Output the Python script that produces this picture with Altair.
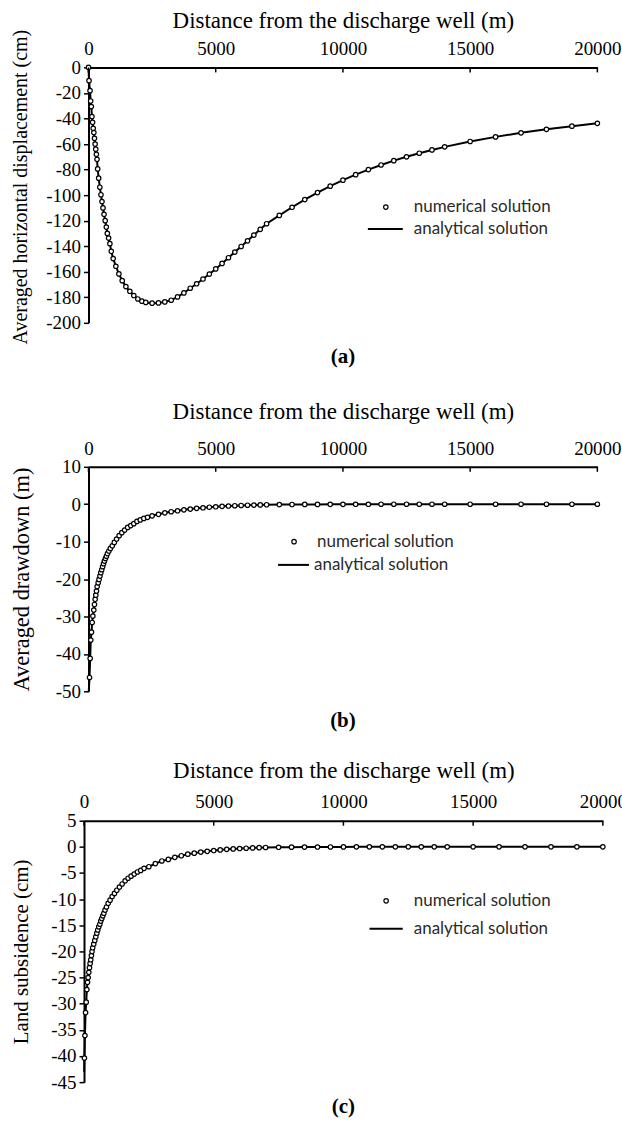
import altair as alt
import pandas as pd

SERIF = "Liberation Serif"
SANS = "Lato"

X_TITLE = "Distance from the discharge well (m)"
X_TICKS = [0, 5000, 10000, 15000, 20000]
NUM_LABEL = "numerical solution"
ANA_LABEL = "analytical solution"
TAGS = ["(a)", "(b)", "(c)"]

# ---------------- panel (a) ----------------
A_TITLE = "Averaged horizontal displacement (cm)"
A_Y_TICKS = [0, -20, -40, -60, -80, -100, -120, -140, -160, -180, -200]
A_X = [0, 20, 60, 85, 110, 135, 160, 185, 210, 235, 260, 285, 310, 335,
       360, 400, 445, 490, 530, 570, 610, 655, 700, 740, 790, 840, 895,
       970, 1075, 1195, 1325, 1470, 1625, 1780, 1940, 2100,
       2250, 2500, 2750, 3000, 3250, 3500, 3750, 4000, 4250, 4500, 4750,
       5000, 5250, 5500, 5750, 6000, 6250, 6500, 6750, 7000,
       7500, 8000, 8500, 9000, 9500, 10000, 10500, 11000, 11500, 12000,
       12500, 13000, 13500, 14000,
       15000, 16000, 17000, 18000, 19000, 20000]
A_Y = [0, -10.4, -18.2, -26.3, -30.7, -38.5, -43, -47.7, -51, -55.5, -60, -64, -68, -72,
       -79.5, -86.7, -93.8, -99.7, -105, -110, -115, -120, -125, -130, -133.6, -138, -144,
       -149.7, -155.7, -161.7, -167, -171.6, -175.3, -178.6, -181.3, -183,
       -184, -184.6, -184.4, -183.6, -182.3, -179.7, -176.6, -172.9, -169.4, -165.7, -161.8,
       -157.8, -153.5, -149.0, -144.6, -140.2, -135.8, -131.3, -126.8, -122.4,
       -115.9, -109.5, -103.5, -98, -93, -88.3, -84, -80, -76.4, -73,
       -70, -67.2, -64.6, -62.2,
       -58, -54.4, -51.2, -48.5, -46, -43.8]

# ---------------- panel (b) ----------------
B_TITLE = "Averaged drawdown (m)"
B_Y_TICKS = [10, 0, -10, -20, -30, -40, -50]
B_X = [40, 65, 90, 117, 145, 172, 208, 235, 261, 287, 313, 340,
       380, 415, 450, 485, 520, 555, 590, 625, 665, 705, 745,
       800, 860, 935, 1015, 1105, 1205, 1310, 1420, 1540, 1660, 1780, 1905, 2035, 2175, 2320,
       2500, 2750, 3000, 3250, 3500, 3750, 4000, 4250, 4500, 4750,
       5000, 5250, 5500, 5750, 6000, 6250, 6500, 6750, 7000,
       7500, 8000, 8500, 9000, 9500, 10000, 10500, 11000, 11500, 12000,
       12500, 13000, 13500, 14000,
       15000, 16000, 17000, 18000, 19000, 20000]
B_Y = [-46.3, -41.2, -36.3, -34.2, -31.6, -29.9, -28.3, -26.8, -25.4, -24.3, -23.2, -22,
       -21, -20.1, -19.2, -18.3, -17.5, -16.7, -15.9, -15.2, -14.5, -13.9, -13.2,
       -12.5, -11.8, -11.1, -10.2, -9.3, -8.4, -7.6, -6.9, -6.2, -5.7, -5.2, -4.6, -4.2, -3.8, -3.5,
       -3.1, -2.7, -2.3, -2.0, -1.75, -1.5, -1.3, -1.1, -0.95, -0.8,
       -0.68, -0.57, -0.48, -0.4, -0.33, -0.27, -0.22, -0.18, -0.14,
       -0.1, -0.07, -0.05, -0.04, -0.03, -0.02, -0.01, -0.01, 0, 0,
       0, 0, 0, 0,
       0, 0, 0, 0, 0, 0]
B_LINE_START_X = [10]
B_LINE_START_Y = [-50]

# ---------------- panel (c) ----------------
C_TITLE = "Land subsidence (cm)"
C_Y_TICKS = [5, 0, -5, -10, -15, -20, -25, -30, -35, -40, -45]
C_X = [15, 35, 60, 85, 110, 135, 160, 185, 210, 235, 260, 285, 310, 335,
       375, 415, 455, 495, 530, 570, 610, 645, 685, 725, 765,
       810, 865, 930, 1005, 1085, 1175, 1265, 1365, 1470, 1585, 1700, 1815, 1935, 2060, 2185, 2315,
       2500, 2750, 3000, 3250, 3500, 3750, 4000, 4250, 4500, 4750,
       5000, 5250, 5500, 5750, 6000, 6250, 6500, 6750, 7000,
       7500, 8000, 8500, 9000, 9500, 10000, 10500, 11000, 11500, 12000,
       12500, 13000, 13500, 14000,
       15000, 16000, 17000, 18000, 19000, 20000]
C_Y = [-40.4, -36.1, -31.7, -29.7, -27.3, -25.9, -25, -24, -23.1, -22.3, -21.6, -20.8, -20, -19.3,
       -18.6, -17.9, -17.2, -16.5, -15.9, -15.3, -14.8, -14.2, -13.7, -13.2, -12.7,
       -12.1, -11.5, -10.8, -10.2, -9.5, -8.9, -8.3, -7.7, -7.1, -6.5, -6.0, -5.6, -5.2, -4.8, -4.5, -4.1,
       -3.8, -3.2, -2.7, -2.4, -2.0, -1.7, -1.4, -1.2, -1.0, -0.85,
       -0.7, -0.58, -0.48, -0.4, -0.32, -0.26, -0.2, -0.15, -0.12,
       -0.08, -0.06, -0.04, -0.03, -0.02, -0.01, 0, 0, 0, 0,
       0, 0, 0, 0,
       0, 0, 0, 0, 0, 0]
C_LINE_START_X = [5]
C_LINE_START_Y = [-43]


def panel(xs, ys, lxs, lys, y_title, y_ticks, y_domain, width, height, tag,
          x_label_pad, x_title_pad, y_title_pad, y_title_size, y_title_y,
          tag_offset, num_leg, ana_leg, shift=0.0):
    pts = pd.DataFrame({"x": xs, "y": ys, "series": NUM_LABEL})
    ln = pd.DataFrame({"x": lxs, "y": lys, "series": ANA_LABEL})
    tk = pd.DataFrame({"x": X_TICKS})

    x_scale_kw = dict(domain=[0, 20000], nice=False, zero=False)
    if shift:
        x_scale_kw["range"] = [-shift, width - shift]
    x_enc = alt.X(
        "x:Q",
        scale=alt.Scale(**x_scale_kw),
        axis=alt.Axis(orient="top", values=X_TICKS, title=X_TITLE,
                      labelExpr="datum.value + ''", ticks=False, tickSize=0,
                      labelPadding=x_label_pad, titlePadding=x_title_pad,
                      titleFontSize=23, labelFlush=False, grid=False),
    )
    y_axis_kw = dict(values=y_ticks, title=y_title, labelExpr="datum.value + ''",
                     tickSize=5, labelPadding=3, titlePadding=y_title_pad,
                     titleFontSize=y_title_size, labelFlush=False, grid=False)
    if y_title_y is not None:
        y_axis_kw["titleY"] = y_title_y
    if shift:
        y_axis_kw["offset"] = shift
    y_enc = alt.Y(
        "y:Q",
        scale=alt.Scale(domain=y_domain, nice=False, zero=False),
        axis=alt.Axis(**y_axis_kw),
    )

    nx, ny, noff = num_leg
    ax, ay, aoff, asize = ana_leg

    line = alt.Chart(ln).mark_line(strokeWidth=2).encode(
        x=x_enc, y=y_enc,
        color=alt.Color("series:N",
                        scale=alt.Scale(domain=[ANA_LABEL], range=["black"]),
                        legend=alt.Legend(title=None, orient="none", legendX=ax, legendY=ay,
                                          padding=0, labelFont=SANS, labelFontSize=17,
                                          labelColor="#2b2b2b", labelOffset=aoff,
                                          symbolType="stroke", symbolSize=asize,
                                          symbolStrokeWidth=2)),
    )
    points = alt.Chart(pts).mark_point(
        shape="circle", filled=False, fill="white", strokeWidth=1.2, size=20, opacity=1
    ).encode(
        x=x_enc, y=y_enc,
        color=alt.Color("series:N",
                        scale=alt.Scale(domain=[NUM_LABEL], range=["black"]),
                        legend=alt.Legend(title=None, orient="none", legendX=nx, legendY=ny,
                                          padding=0, labelFont=SANS, labelFontSize=17,
                                          labelColor="#2b2b2b", labelOffset=noff,
                                          symbolType="circle", symbolSize=20,
                                          symbolStrokeWidth=1.2, symbolFillColor="white")),
    )
    ticks = alt.Chart(tk).mark_rule(color="black", strokeWidth=1.5).encode(
        x=x_enc, y=alt.value(0), y2=alt.value(5)
    )
    title_kw = dict(orient="bottom", frame="group", anchor="middle",
                    font=SERIF, fontSize=21, fontWeight="bold", color="black",
                    offset=tag_offset)
    if shift:
        title_kw["dx"] = -shift
    return alt.layer(line, points, ticks).resolve_scale(color="independent").properties(
        width=width, height=height,
        title=alt.TitleParams(tag, **title_kw),
    )


pa = panel(A_X, A_Y, A_X, A_Y, A_TITLE, A_Y_TICKS, [-200, 0], 510, 256, TAGS[0],
           8.7, 7.8, 15, 20, 119.5, 1.7,
           (289.5, 131.5, 19.5), (279, 143.5, 10, 1225))
pb = panel(B_X, B_Y, B_LINE_START_X + B_X, B_LINE_START_Y + B_Y, B_TITLE, B_Y_TICKS,
           [-50, 10], 510, 225, TAGS[1],
           8.4, 15.8, 22, 22.5, None, 8.8,
           (197.5, 66.5, 14.5), (189, 81.8, 4, 961))
pc = panel(C_X, C_Y, C_LINE_START_X + C_X, C_LINE_START_Y + C_Y, C_TITLE, C_Y_TICKS,
           [-45, 5], 520, 262, TAGS[2],
           9.7, 9.8, 19, 21, None, 3.5,
           (289.8, 71.8, 19.2), (280.3, 90.3, 9.7, 1109), shift=4.5)

inner = alt.vconcat(pa, pb, spacing=32.3).resolve_scale(color="independent")
chart = alt.vconcat(inner, pc, spacing=27).resolve_scale(
    color="independent"
).properties(
    padding={"left": 9.7, "top": 7.3, "right": -5.3, "bottom": 8},
    background="white",
).configure_view(stroke=None).configure_axis(
    domainColor="black", domainWidth=2, tickColor="black", tickWidth=1.5,
    labelFont=SERIF, labelFontSize=19, labelColor="black",
    titleFont=SERIF, titleFontSize=21, titleFontWeight="normal", titleColor="black",
)

chart.save("out.html", embed_options={"renderer": "svg", "actions": False})
